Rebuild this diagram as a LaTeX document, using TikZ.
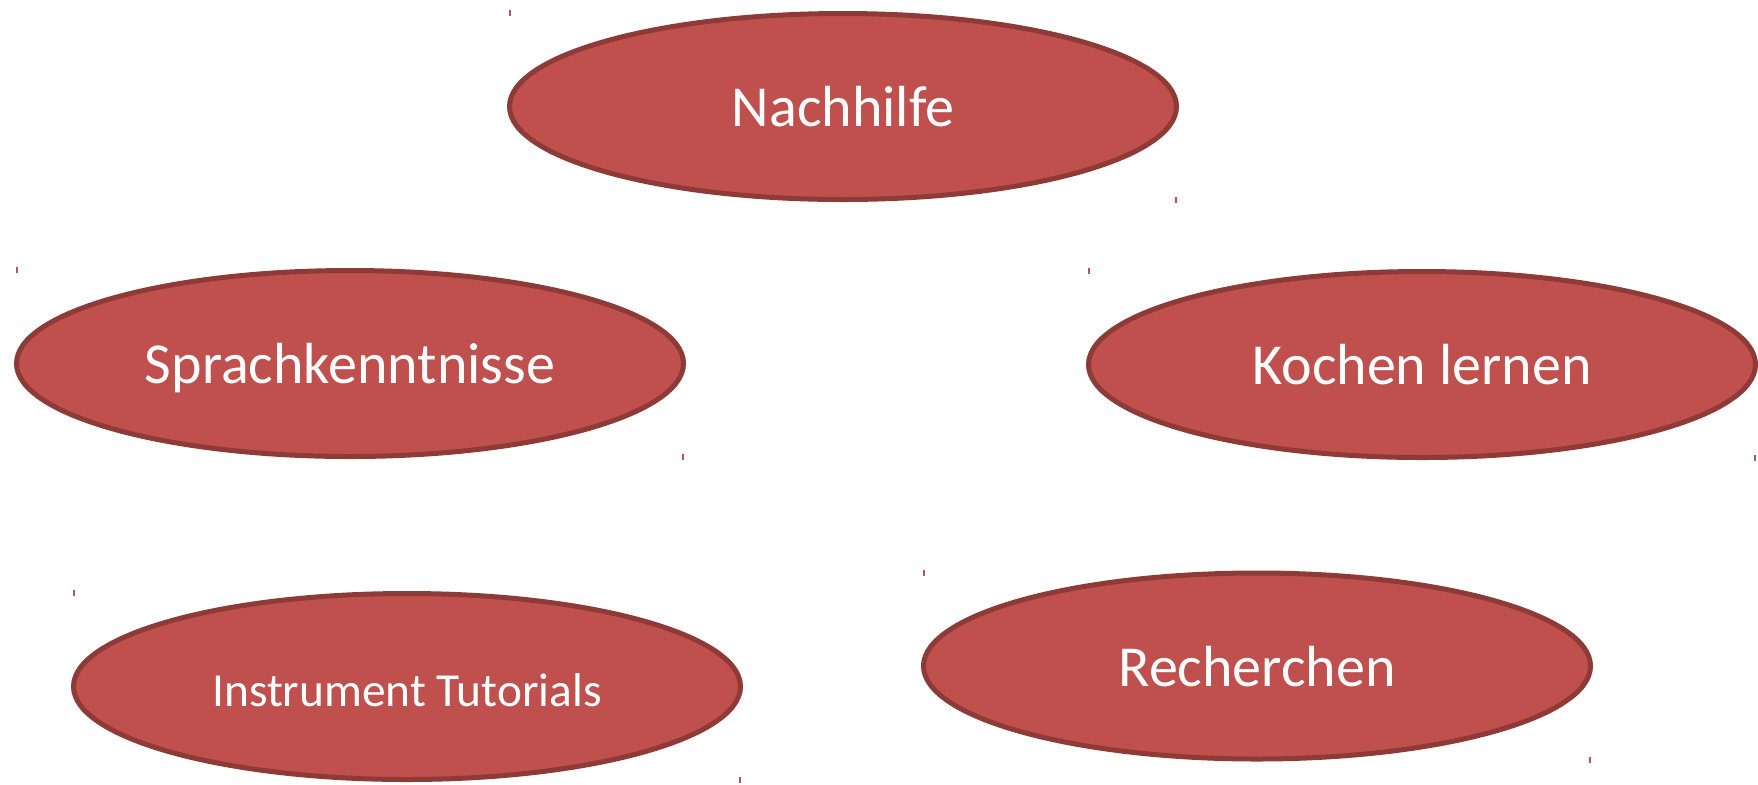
\documentclass[tikz,border=0pt]{standalone}
\usepackage{fontspec}
\setmainfont{Carlito}
\usetikzlibrary{shapes.geometric}

\definecolor{bubblefill}{HTML}{C0504D}
\definecolor{bubbleline}{HTML}{8E3A37}
\definecolor{tickred}{HTML}{B05A58}

\begin{document}
\begin{tikzpicture}[
            x = 0.5pt, % one pixel of the reference
            y = -0.5pt, % y runs downwards
            semithick % line style
        ]

        \tikzstyle{bubble}=[
            ellipse,
            draw = bubbleline,
            line width = 2.5pt,
            fill = bubblefill,
            text = white,
            font = \fontsize{29}{34}\selectfont,
            minimum width = 333.5pt,
            minimum height = 93pt,
            inner sep = 0pt,
            text height = 24pt,
            text depth = 4pt
        ]
        \tikzstyle{corner}=[
            draw = tickred,
            line width = 0.6pt
        ]

        \useasboundingbox (0,0) rectangle (1758,784);

        \node[bubble] (nachhilfe) at (843,106.5) {Nachhilfe};
        \node[bubble] (sprache) at (350,363.5) {Sprachkenntnisse};
        \node[bubble] (kochen) at (1422,364.5) {Kochen lernen};
        \node[bubble, font = \fontsize{23.7}{28}\selectfont] (instrument) at (407,686.5) {Instrument Tutorials};
        \node[bubble] (recherche) at (1257,666) {Recherchen};

        % little marks at the corners of each shape
        \foreach \b in {nachhilfe, sprache, kochen, instrument, recherche} {
            \draw[corner] (\b.west |- \b.north) ++(3,-1) -- ++(0,6);
            \draw[corner] (\b.east |- \b.south) ++(-3,-5) -- ++(0,6);
        }

  \end{tikzpicture}
\end{document}
